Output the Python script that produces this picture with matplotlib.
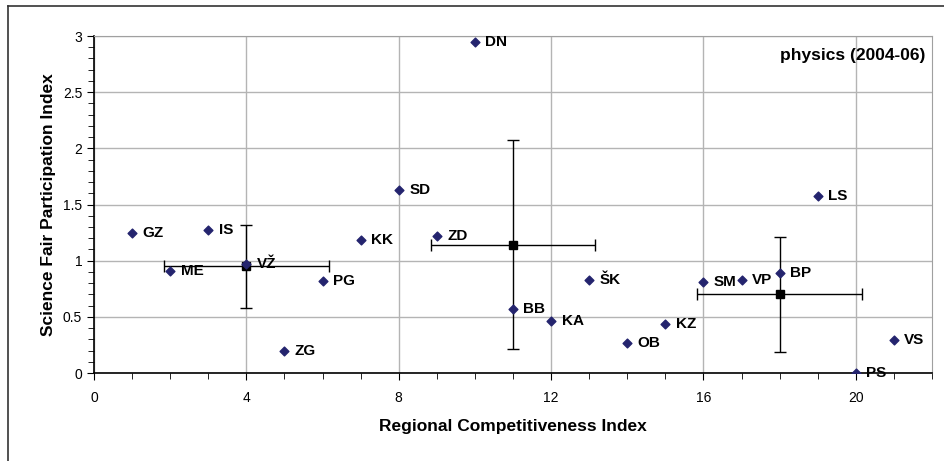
import numpy as np
import matplotlib.pyplot as plt
from matplotlib.ticker import MultipleLocator, FormatStrFormatter

plt.rcParams['font.family'] = ['Liberation Sans', 'DejaVu Sans']

# regional data points
regions = ['GZ', 'ME', 'IS', 'VŽ', 'ZG', 'PG', 'KK', 'SD', 'ZD', 'DN', 'BB',
           'KA', 'ŠK', 'OB', 'KZ', 'SM', 'VP', 'BP', 'LS', 'PS', 'VS']
competitiveness = [1, 2, 3, 4, 5, 6, 7, 8, 9, 10, 11,
                   12, 13, 14, 15, 16, 17, 18, 19, 20, 21]
participation = [1.25, 0.91, 1.27, 0.97, 0.20, 0.82, 1.18, 1.63, 1.22, 2.95, 0.57,
                 0.46, 0.83, 0.27, 0.44, 0.81, 0.83, 0.89, 1.58, 0.00, 0.29]

# group means with spread
mean_x = [4, 11, 18]
mean_y = [0.95, 1.14, 0.70]
err_x = [2.17, 2.15, 2.17]
err_y = [0.37, 0.93, 0.51]

fig = plt.figure(figsize=(9.44, 4.61), dpi=100)
ax = fig.add_axes([94 / 944, 88 / 461, 838 / 944, 337 / 461])

ax.errorbar(mean_x, mean_y, xerr=err_x, yerr=err_y, fmt='s', color='black',
            markersize=6, elinewidth=1, capsize=4, capthick=1, zorder=3)
ax.scatter(competitiveness, participation, marker='D', s=20, color='#24246e', zorder=4)

for name, x, y in zip(regions, competitiveness, participation):
    ax.annotate(name, (x, y), xytext=(7.5, 0), textcoords='offset points',
                va='center', ha='left', fontsize=11, fontweight='bold', zorder=5)

ax.set_xlim(0, 22)
ax.set_ylim(0, 3)
ax.set_xticks([0, 4, 8, 12, 16, 20])
ax.xaxis.set_minor_locator(MultipleLocator(1))
ax.yaxis.set_major_locator(MultipleLocator(0.5))
ax.yaxis.set_minor_locator(MultipleLocator(0.1))
ax.yaxis.set_major_formatter(FormatStrFormatter('%g'))
ax.tick_params(which='major', length=5, labelsize=10, colors='black')
ax.tick_params(which='minor', length=4)
ax.tick_params(axis='x', pad=8)
ax.grid(True, which='major', color='#b4b4b4', linewidth=1)
ax.set_axisbelow(True)

for side in ['top', 'right']:
    ax.spines[side].set_color('#a0a0a0')
ax.spines['left'].set_linewidth(1.2)
ax.spines['bottom'].set_linewidth(1.2)

ax.set_xlabel('Regional Competitiveness Index', fontsize=12.5, fontweight='bold', labelpad=10)
ax.set_ylabel('Science Fair Participation Index', fontsize=12.5, fontweight='bold', labelpad=5)
ax.text(0.992, 0.965, 'physics (2004-06)', transform=ax.transAxes, ha='right', va='top',
        fontsize=12.5, fontweight='bold')

# outer chart frame (left and top edges visible)
fig.add_artist(plt.Line2D([8 / 944, 8 / 944], [0, 455 / 461], color='#333333', linewidth=1.2))
fig.add_artist(plt.Line2D([8 / 944, 1], [455 / 461, 455 / 461], color='#333333', linewidth=1.2))

fig.savefig('out.png', dpi=100)
